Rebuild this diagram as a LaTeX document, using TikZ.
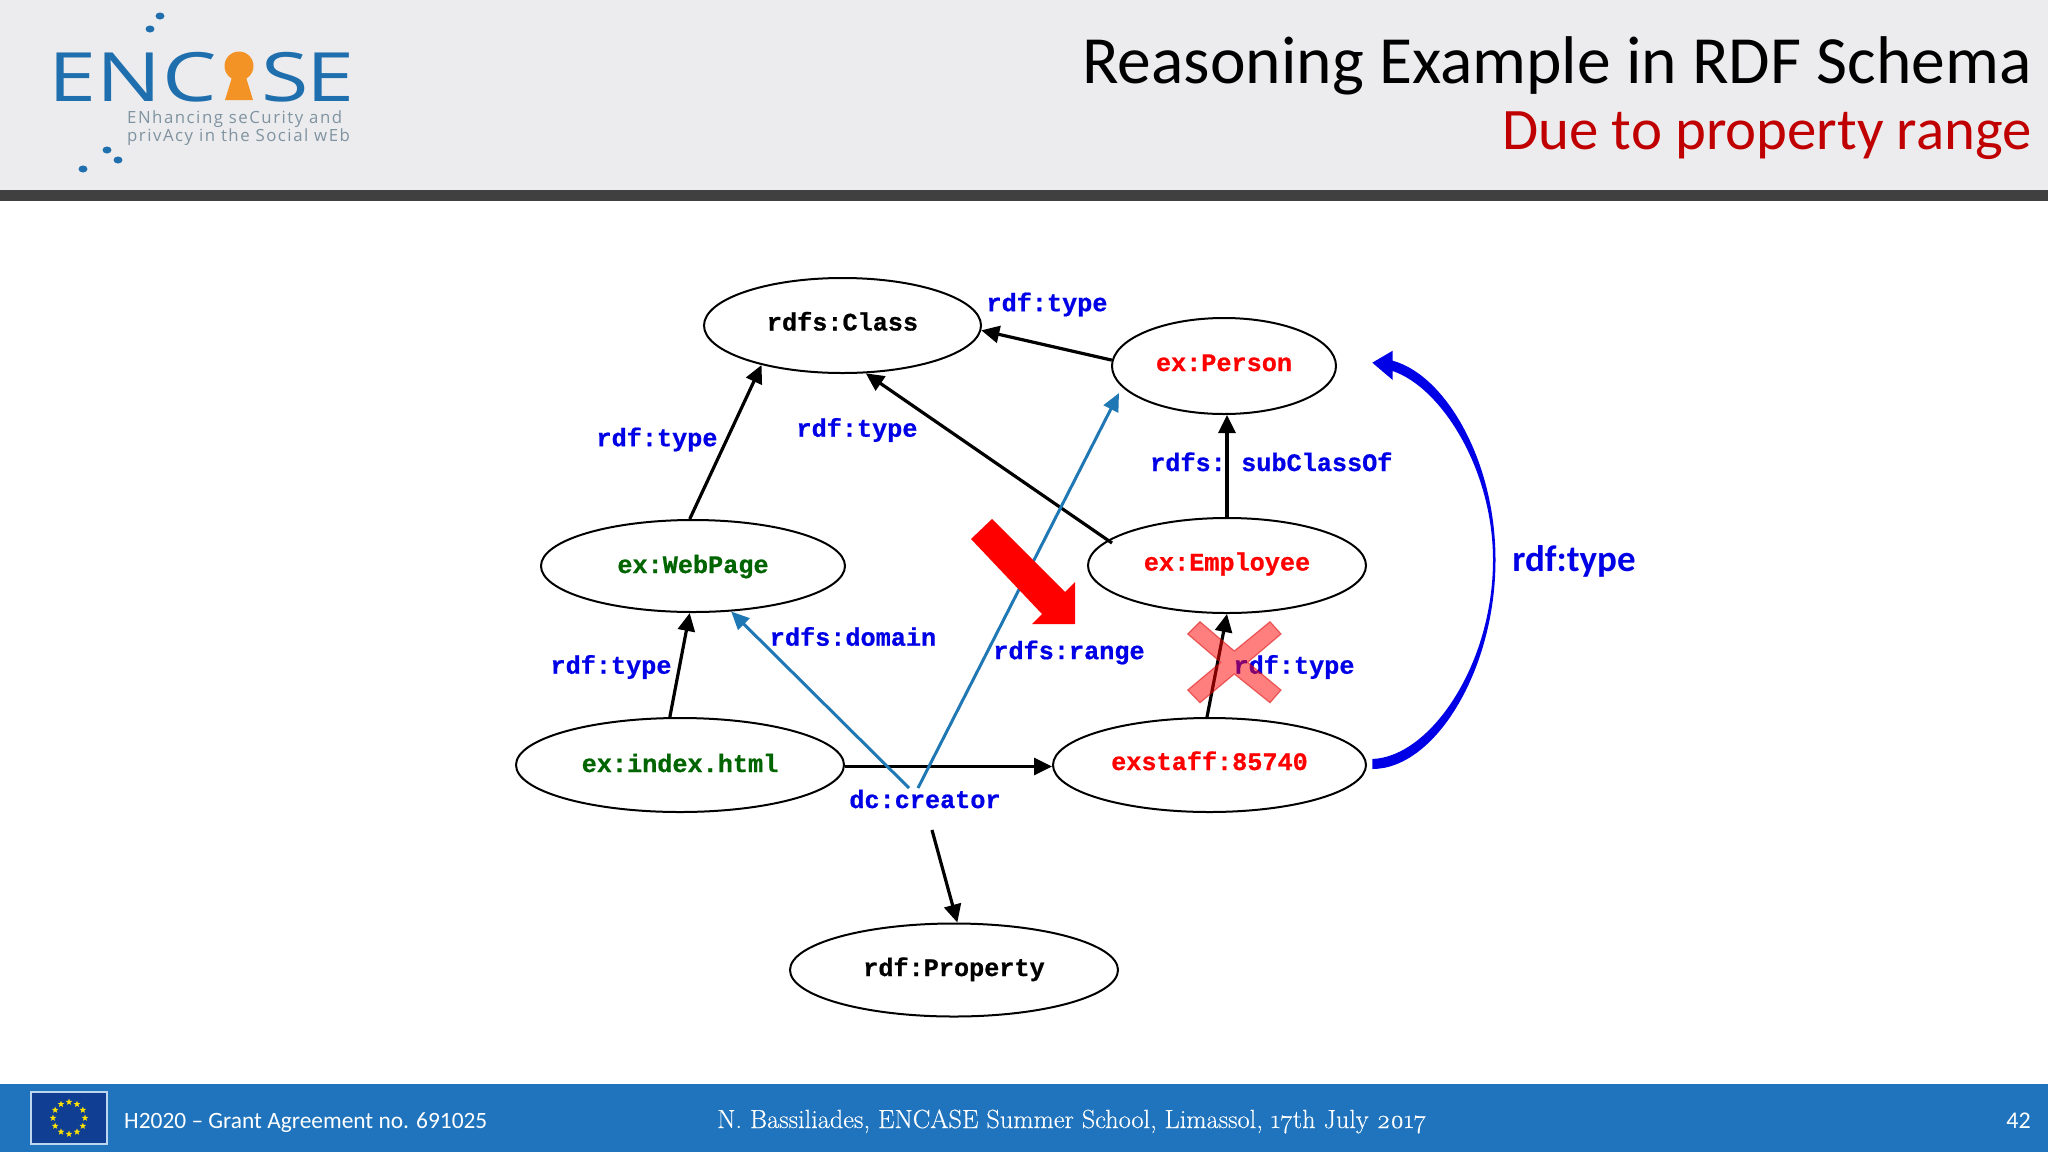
\documentclass[tikz,border=0pt]{standalone}
\usepackage{fontspec}
\usetikzlibrary{shapes.geometric,arrows.meta,calc}
\setmainfont{Carlito}
\newfontfamily\monob[FakeBold=0.7]{Liberation Mono Bold}
\newfontfamily\osans{Open Sans}
\newfontfamily\osanss[LetterSpace=9]{Open Sans}
\newfontfamily\oldnum[Numbers=OldStyle,FakeBold=0.25]{Latin Modern Roman}
\definecolor{headbg}{HTML}{ECECEE}
\definecolor{headbar}{HTML}{404040}
\definecolor{footbg}{HTML}{1F74BD}
\definecolor{flagbg}{HTML}{0F3E92}
\definecolor{flagedge}{HTML}{BCD6F0}
\definecolor{logoblue}{HTML}{1F6FAE}
\definecolor{logotext}{HTML}{7F93A0}
\definecolor{logoorange}{HTML}{F39325}
\definecolor{titlered}{HTML}{C00000}
\definecolor{lineblue}{HTML}{1F78B4}
\definecolor{labblue}{HTML}{0000E6}
\definecolor{resgreen}{HTML}{006400}
\tikzset{
 res/.style={draw=black,line width=2pt,ellipse,inner sep=0pt,fill=none,font=\monob\fontsize{25.2}{25}\selectfont,text height=14pt,text depth=4pt},
 lab/.style={font=\monob\fontsize{25.2}{25}\selectfont,text=labblue,inner sep=0pt},
 edgeb/.style={draw=black,line width=3.2pt,-{Triangle[length=18pt,width=17pt]}},
 edgeu/.style={draw=lineblue,line width=3pt,-{Triangle[length=18pt,width=16pt]}},
 logodot/.style={fill=logoblue,draw=none,ellipse,minimum width=9pt,minimum height=7pt,inner sep=0pt},
 logolet/.style={anchor=base west,inner sep=0pt,text=logoblue,font=\osans\fontsize{68}{68}\selectfont,xscale=1.27,transform shape},
 logosub/.style={anchor=base west,inner sep=0pt,text=logotext,font=\osanss\fontsize{16.8}{16.8}\selectfont},
 foot/.style={text=white,inner sep=0pt},
}
\begin{document}
\begin{tikzpicture}[x=1pt,y=-1pt]
\useasboundingbox (0,0) rectangle (2048,1152);
\fill[white] (0,0) rectangle (2048,1152);
\fill[headbg] (0,0) rectangle (2048,190);
\fill[headbar] (0,190) rectangle (2048,201);
\fill[footbg] (0,1084) rectangle (2048,1152);
% logo
\node[logodot] (d1) at (160,16) {};
\node[logodot] (d2) at (150,29) {};
\node[logodot] (d3) at (107,150) {};
\node[logodot] (d4) at (118,160) {};
\node[logodot] (d5) at (83,169) {};
\node[logolet] (le1) at (48.5,101) {E};
\node[logolet] (ln) at (96.5,101) {N};
\node[logolet] (lc) at (162,101) {C};
\node[logolet] (ls) at (261.5,101) {S};
\node[logolet] (le2) at (306.5,101) {E};
\fill[logoorange] (239,66) circle (14.5);
\fill[logoorange] (233,74) -- (245,74) -- (253,100) -- (225,100) -- cycle;
\node[logosub] (sl1) at (127,123) {ENhancing seCurity and};
\node[logosub] (sl2) at (127,141) {privAcy in the Social wEb};
% title
\node[anchor=base east,inner sep=0pt,font=\fontsize{67.5}{67}\selectfont,text=black] (title) at (2032,83) {Reasoning Example in RDF Schema};
\node[anchor=base east,inner sep=0pt,font=\fontsize{58.8}{58}\selectfont,text=titlered] (sub) at (2032,149) {Due to property range};
% footer
\draw[flagedge,line width=1.5pt,fill=flagbg] (31,1092) rectangle (107,1144);
\foreach \a in {0,30,...,330}{
 \node[star,star points=5,star point ratio=2.4,fill=yellow!85!orange,draw=none,inner sep=0pt,minimum size=7pt] at ($(69,1118)+(\a:16)$) {};
}
\node[foot,anchor=base west,font=\fontsize{23.4}{24}\selectfont] (grant) at (124,1128) {H2020 – Grant Agreement no. 691025};
\node[foot,anchor=base west,font=\oldnum\fontsize{26.3}{27}\selectfont] (auth) at (717,1128) {N. Bassiliades, ENCASE Summer School, Limassol, 17th July 2017};
\node[foot,anchor=base east,font=\fontsize{24}{24}\selectfont] (page) at (2031,1128) {42};
% nodes
\node[res,minimum width=277pt,minimum height=95pt] (cls) at (842.5,325.5) {rdfs:Class};
\node[res,minimum width=224pt,minimum height=96pt,text=red] (per) at (1224,366) {ex:Person};
\node[res,minimum width=304pt,minimum height=92pt,text=resgreen,text depth=0pt] (web) at (693,566) {ex:WebPage};
\node[res,minimum width=278pt,minimum height=95pt,text=red] (emp) at (1227,565.5) {ex:Employee};
\node[res,minimum width=313pt,minimum height=94pt,text=red] (sta) at (1209.5,765) {exstaff:85740};
\node[res,minimum width=328pt,minimum height=94pt,text=resgreen,text depth=0pt] (idx) at (680,765) {ex:index.html};
\node[res,minimum width=328pt,minimum height=93pt,text depth=2pt] (prop) at (954,970) {rdf:Property};
% labels
\node[lab] (l1) at (1047,304.5) {rdf:type};
\node[lab] (l2) at (657,439.5) {rdf:type};
\node[lab] (l3) at (857,430) {rdf:type};
\node[lab,anchor=base west] (l4) at (1150,471) {rdfs:};
\node[lab,anchor=base west] (l4b) at (1241,471) {subClassOf};
\node[lab] (l5) at (853,636.5) {rdfs:domain};
\node[lab] (l6) at (1069,652.5) {rdfs:range};
\node[lab] (l7) at (611,667) {rdf:type};
\node[lab] (l8) at (1294,667) {rdf:type};
\node[lab] (dc) at (925,799) {dc:creator};
\node[inner sep=0pt,text=labblue,font=\bfseries\fontsize{37}{37}\selectfont] (bigl) at (1574,561) {rdf:type};
\coordinate (dcl) at (909,788);
\coordinate (dcr) at (918,788);
\coordinate (dcb) at (932,830);
\coordinate (empl) at (1112,543);
\coordinate (pert) at (1119,393);
% edges
\draw[edgeb] (web.94) -- (cls.206.5);
\draw[edgeb] (empl) -- (cls.-64);
\draw[edgeb] (per.177) -- (cls.-2);
\draw[edgeb] (emp.north) -- (emp.north |- per.south);
\draw[edgeb] (idx.102) -- (web.266);
\draw[edgeb] (sta.93) -- (emp.south);
\draw[edgeb] ([yshift=-1.5pt]idx.east) -- ([yshift=-1.5pt]sta.west);
\draw[edgeb] (dcb) -- (prop.86);
\draw[edgeu] (dcl) -- (web.-50);
\draw[edgeu] (dcr) -- (pert);
% big blue tapered arrow
\fill[labblue] (1372.3,759) .. controls (1430,757) and (1493,665) .. (1493,560)
  .. controls (1493,470) and (1442,388) .. (1392.7,371) -- (1392.7,380) -- (1372.3,362.7) -- (1392.7,350.7) -- (1392.7,360.7)
  .. controls (1445,375) and (1495.5,460) .. (1495.5,560)
  .. controls (1495.5,670) and (1435,769) .. (1372.3,769) -- cycle;
% big red arrow
\fill[red] (992,519) -- (1065,592) -- (1075,582) -- (1075,624) -- (1032,624) -- (1042,614) -- (971,539) -- cycle;
% cross
\path[fill=red,draw=red!85!black,line width=1.2pt,fill opacity=.5,draw opacity=.5]
 (1187.7,634) -- (1200,621.7) -- (1234.3,651) -- (1270,621.7) -- (1281,634) -- (1247.7,662.3) -- (1281,690) -- (1270,702.7) -- (1234.3,674) -- (1200,702.7) -- (1187.7,690) -- (1220.7,662.3) -- cycle;
\end{tikzpicture}
\end{document}
